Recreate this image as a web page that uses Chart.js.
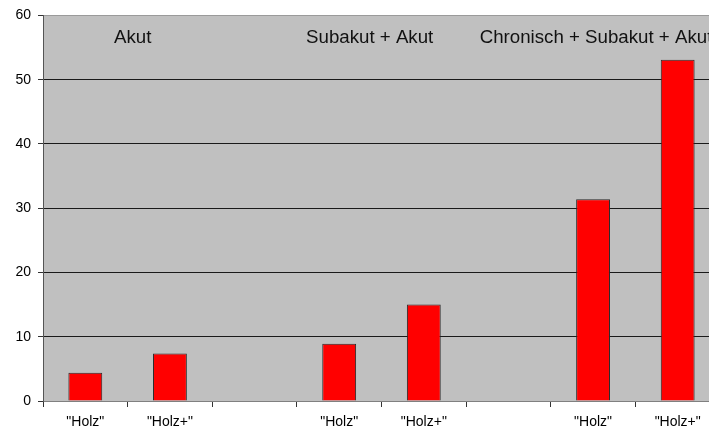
<!DOCTYPE html>
<html lang="de">
<head>
<meta charset="UTF-8">
<title>Holz / Holz+</title>
<script src="https://cdn.jsdelivr.net/npm/chart.js"></script>
<style>
    html, body {
        margin: 0;
        padding: 0;
        background: #fff;
        overflow: hidden;
    }
    #chart {
        display: block;
    }
</style>
</head>
<body>
<canvas id="chart" width="720" height="430"></canvas>
<script>
    // categories (empty slots separate the three groups)
    const categories = ['"Holz"', '"Holz+"', '', '"Holz"', '"Holz+"', '', '"Holz"', '"Holz+"'];
    const values = [4.4, 7.4, null, 8.9, 15.0, null, 31.4, 53.1];
    const groupLabels = ['Akut', 'Subakut + Akut', 'Chronisch + Subakut + Akut'];
    const yTicks = [0, 10, 20, 30, 40, 50, 60];

    const FONT = '"Liberation Sans", Arial, sans-serif';

    // grey plot background
    const plotBg = {
        id: 'plotBg',
        beforeDraw(chart) {
            const a = chart.chartArea;
            const ctx = chart.ctx;
            ctx.save();
            ctx.fillStyle = '#c0c0c0';
            ctx.fillRect(a.left, a.top, a.right - a.left, a.bottom - a.top);
            ctx.restore();
        }
    };

    // group captions, placed on the category axis
    const groupText = {
        id: 'groupText',
        afterDatasetsDraw(chart) {
            const x = chart.scales.x, y = chart.scales.y;
            const spots = [
                { at: 0.56, align: 'center' },
                { at: 3.36, align: 'center' },
                { at: 4.66, align: 'left' }
            ];
            const ctx = chart.ctx;
            ctx.save();
            ctx.font = '18.7px ' + FONT;
            ctx.fillStyle = '#111';
            ctx.textBaseline = 'alphabetic';
            groupLabels.forEach((t, i) => {
                ctx.textAlign = spots[i].align;
                ctx.fillText(t, x.getPixelForValue(spots[i].at), y.getPixelForValue(55.7));
            });
            ctx.restore();
        }
    };

    new Chart(document.getElementById('chart'), {
        type: 'bar',
        data: {
            labels: categories,
            datasets: [{
                data: values,
                backgroundColor: '#ff0000',
                borderColor: '#2a2a2a',
                borderWidth: 1,
                categoryPercentage: 1,
                barPercentage: 0.4
            }]
        },
        options: {
            responsive: false,
            animation: false,
            layout: { padding: { top: 15, right: 0, left: 0, bottom: 0 } },
            plugins: {
                legend: { display: false },
                tooltip: { enabled: false }
            },
            scales: {
                x: {
                    grid: {
                        drawOnChartArea: false,
                        drawTicks: true,
                        tickLength: 6,
                        tickColor: '#333'
                    },
                    border: { color: '#808080', width: 1 },
                    ticks: {
                        color: '#000',
                        font: { family: FONT, size: 14 },
                        padding: 7,
                        maxRotation: 0,
                        autoSkip: false
                    },
                    afterFit(s) { s.height = 29; }
                },
                y: {
                    min: 0,
                    max: 60,
                    afterBuildTicks(s) { s.ticks = yTicks.map(v => ({ value: v })); },
                    grid: {
                        color: c => c.tick.value === 0 ? '#808080' : (c.tick.value === 60 ? '#9a9a9a' : '#1a1a1a'),
                        tickColor: '#333',
                        tickLength: 5
                    },
                    border: { color: '#555', width: 1 },
                    ticks: {
                        color: '#000',
                        font: { family: FONT, size: 14 },
                        padding: 7
                    },
                    afterFit(s) { s.width = 43; }
                }
            }
        },
        plugins: [plotBg, groupText]
    });
</script>
</body>
</html>
